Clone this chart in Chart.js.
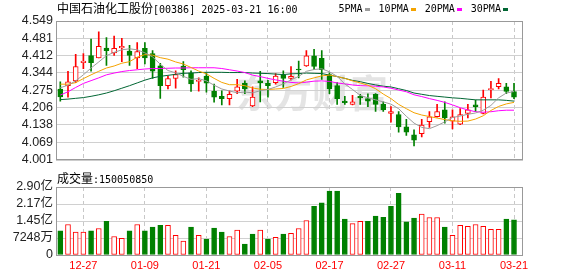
<!DOCTYPE html>
<html>
<head>
<meta charset="utf-8">
<script src="https://cdn.jsdelivr.net/npm/chart.js@4.4.1/dist/chart.umd.min.js"></script>
<style>
  body { margin: 0; background: #fff; }
  #wrap { position: relative; width: 578px; height: 276px; overflow: hidden; }
  canvas { position: absolute; left: 0; }
  .txt { position: absolute; white-space: nowrap; line-height: 12px; color: #000; }
  .cjk { font-family: "Noto Sans CJK SC", sans-serif; font-size: 12px; }
  .mono { font-family: "DejaVu Sans Mono", monospace; font-size: 10px; }
  #legend { position: absolute; left: 338.5px; top: 3px; display: flex; align-items: center; line-height: 12px; }
  #legend .item { display: flex; align-items: center; margin-right: 8.5px; }
  #legend .mark { width: 5px; height: 3px; margin-left: 2.5px; }
</style>
</head>
<body>
<div id="wrap">
  <canvas id="klineChart" width="578" height="170" style="top:0"></canvas>
  <canvas id="volumeChart" width="578" height="106" style="top:170px"></canvas>
  <div class="txt" style="left:57px;top:2px"><span class="cjk">中国石油化工股份</span><span class="mono">[00386] 2025-03-21 16:00</span></div>
  <div id="legend"></div>
  <div class="txt" style="left:57px;top:172px"><span class="cjk">成交量</span><span class="mono" id="volText"></span></div>
</div>
<script>
// trading days shown
const dates = [
  '2024-12-20', '2024-12-23', '2024-12-24', '2024-12-27', '2024-12-30', '2024-12-31', '2025-01-02', '2025-01-03', '2025-01-06', '2025-01-07',
  '2025-01-08', '2025-01-09', '2025-01-10', '2025-01-13', '2025-01-14', '2025-01-15', '2025-01-16', '2025-01-17', '2025-01-20', '2025-01-21',
  '2025-01-22', '2025-01-23', '2025-01-24', '2025-01-27', '2025-01-28', '2025-02-03', '2025-02-04', '2025-02-05', '2025-02-06', '2025-02-07',
  '2025-02-10', '2025-02-11', '2025-02-12', '2025-02-13', '2025-02-14', '2025-02-17', '2025-02-18', '2025-02-19', '2025-02-20', '2025-02-21',
  '2025-02-24', '2025-02-25', '2025-02-26', '2025-02-27', '2025-02-28', '2025-03-03', '2025-03-04', '2025-03-05', '2025-03-06', '2025-03-07',
  '2025-03-10', '2025-03-11', '2025-03-12', '2025-03-13', '2025-03-14', '2025-03-17', '2025-03-18', '2025-03-19', '2025-03-20', '2025-03-21'
];

const open = [
  4.280, 4.293, 4.312, 4.384, 4.412, 4.403, 4.442, 4.423, 4.442, 4.430,
  4.403, 4.441, 4.420, 4.372, 4.293, 4.322, 4.371, 4.344, 4.310, 4.331,
  4.271, 4.251, 4.242, 4.271, 4.303, 4.213, 4.312, 4.302, 4.305, 4.335,
  4.322, 4.359, 4.371, 4.411, 4.401, 4.337, 4.293, 4.232, 4.219, 4.251,
  4.242, 4.259, 4.219, 4.183, 4.179, 4.130, 4.099, 4.103, 4.151, 4.170,
  4.198, 4.153, 4.141, 4.183, 4.217, 4.183, 4.277, 4.289, 4.289, 4.270
];
const high = [
  4.308, 4.350, 4.417, 4.420, 4.477, 4.506, 4.483, 4.489, 4.480, 4.453,
  4.464, 4.464, 4.432, 4.382, 4.331, 4.352, 4.388, 4.352, 4.324, 4.344,
  4.299, 4.273, 4.273, 4.318, 4.312, 4.289, 4.350, 4.314, 4.341, 4.352,
  4.369, 4.390, 4.432, 4.437, 4.432, 4.344, 4.305, 4.251, 4.255, 4.259,
  4.261, 4.262, 4.229, 4.210, 4.191, 4.160, 4.118, 4.160, 4.191, 4.219,
  4.229, 4.198, 4.202, 4.219, 4.236, 4.276, 4.310, 4.321, 4.302, 4.302
];
const low = [
  4.232, 4.248, 4.305, 4.360, 4.350, 4.403, 4.373, 4.413, 4.388, 4.373,
  4.360, 4.379, 4.322, 4.243, 4.280, 4.283, 4.327, 4.270, 4.271, 4.267,
  4.228, 4.217, 4.217, 4.261, 4.261, 4.210, 4.229, 4.248, 4.299, 4.286,
  4.315, 4.324, 4.369, 4.356, 4.318, 4.261, 4.219, 4.219, 4.217, 4.219,
  4.210, 4.191, 4.191, 4.149, 4.109, 4.096, 4.055, 4.090, 4.128, 4.168,
  4.145, 4.122, 4.139, 4.166, 4.191, 4.181, 4.245, 4.280, 4.261, 4.242
];
const close = [
  4.249, 4.308, 4.369, 4.390, 4.384, 4.449, 4.432, 4.441, 4.449, 4.413,
  4.428, 4.403, 4.350, 4.293, 4.321, 4.337, 4.356, 4.300, 4.313, 4.303,
  4.248, 4.242, 4.259, 4.289, 4.280, 4.248, 4.305, 4.293, 4.331, 4.322,
  4.330, 4.355, 4.411, 4.369, 4.356, 4.280, 4.242, 4.226, 4.229, 4.245,
  4.232, 4.219, 4.198, 4.191, 4.130, 4.109, 4.077, 4.137, 4.170, 4.191,
  4.166, 4.170, 4.179, 4.198, 4.210, 4.248, 4.282, 4.302, 4.270, 4.248
];

const ma5 = [
  4.285, 4.295, 4.312, 4.336, 4.363, 4.387, 4.412, 4.425, 4.435, 4.439,
  4.435, 4.423, 4.407, 4.378, 4.353, 4.344, 4.330, 4.318, 4.321, 4.312,
  4.295, 4.280, 4.272, 4.265, 4.268, 4.265, 4.273, 4.278, 4.288, 4.300,
  4.316, 4.330, 4.350, 4.357, 4.360, 4.348, 4.330, 4.300, 4.278, 4.255,
  4.245, 4.237, 4.229, 4.220, 4.202, 4.172, 4.145, 4.128, 4.123, 4.135,
  4.150, 4.167, 4.173, 4.180, 4.185, 4.196, 4.215, 4.245, 4.264, 4.270
];
const ma10 = [
  4.299, 4.299, 4.305, 4.321, 4.336, 4.350, 4.363, 4.371, 4.382, 4.388,
  4.406, 4.416, 4.414, 4.404, 4.398, 4.387, 4.379, 4.365, 4.351, 4.340,
  4.322, 4.306, 4.297, 4.297, 4.293, 4.284, 4.279, 4.278, 4.280, 4.282,
  4.290, 4.301, 4.316, 4.324, 4.332, 4.335, 4.329, 4.322, 4.312, 4.304,
  4.295, 4.281, 4.260, 4.242, 4.219, 4.202, 4.186, 4.177, 4.171, 4.165,
  4.159, 4.154, 4.152, 4.153, 4.161, 4.174, 4.195, 4.211, 4.221, 4.227
];
const ma20 = [
  4.256, 4.269, 4.286, 4.302, 4.313, 4.324, 4.336, 4.343, 4.349, 4.353,
  4.356, 4.359, 4.361, 4.361, 4.362, 4.363, 4.363, 4.364, 4.364, 4.364,
  4.364, 4.361, 4.356, 4.351, 4.345, 4.335, 4.329, 4.322, 4.316, 4.311,
  4.306, 4.304, 4.307, 4.311, 4.312, 4.310, 4.304, 4.300, 4.296, 4.293,
  4.292, 4.291, 4.288, 4.283, 4.276, 4.269, 4.257, 4.250, 4.242, 4.235,
  4.227, 4.217, 4.206, 4.197, 4.190, 4.188, 4.190, 4.194, 4.196, 4.196
];
const ma30 = [
  4.238, 4.240, 4.243, 4.246, 4.251, 4.257, 4.264, 4.273, 4.283, 4.293,
  4.304, 4.315, 4.324, 4.330, 4.334, 4.338, 4.342, 4.343, 4.345, 4.346,
  4.346, 4.346, 4.345, 4.345, 4.345, 4.343, 4.342, 4.341, 4.339, 4.337,
  4.340, 4.341, 4.343, 4.342, 4.341, 4.335, 4.329, 4.322, 4.314, 4.309,
  4.302, 4.296, 4.291, 4.288, 4.281, 4.274, 4.264, 4.259, 4.254, 4.251,
  4.248, 4.245, 4.243, 4.240, 4.237, 4.237, 4.237, 4.237, 4.235, 4.232
];

const volume = [
  103000000, 130000000, 98000000, 98000000, 103000000, 113000000, 144000000, 79000000, 71000000, 103000000,
  130000000, 103000000, 119000000, 127000000, 126000000, 84000000, 59000000, 119000000, 84000000, 68000000,
  115000000, 98000000, 79000000, 106000000, 47000000, 89000000, 106000000, 68000000, 75000000, 89000000,
  92000000, 113000000, 147000000, 208000000, 222000000, 272000000, 272000000, 153000000, 134000000, 144000000,
  144000000, 166000000, 161000000, 208000000, 263000000, 141000000, 157000000, 174000000, 160000000, 160000000,
  119000000, 84000000, 126000000, 122000000, 130000000, 122000000, 109000000, 109000000, 153000000, 150050850
];

const priceTicks = [4.001, 4.069, 4.138, 4.206, 4.275, 4.344, 4.412, 4.481, 4.549];
const volumeTicks = [0, 72480000, 144960000, 217440000, 289920000];
const volumeTickLabels = ['0', '7248万', '1.45亿', '2.17亿', '2.90亿'];
const dateTicks = ['12-27', '01-09', '01-21', '02-05', '02-17', '02-27', '03-11', '03-21'];

const RED = '#ff0000';
const GREEN = '#008000';
const AXIS_FONT = '"Liberation Sans", "Noto Sans CJK SC", sans-serif';

const maSeries = [
  { name: '5PMA', data: ma5, color: '#9c9c9c' },
  { name: '10PMA', data: ma10, color: '#f4a300' },
  { name: '20PMA', data: ma20, color: '#ff00ff' },
  { name: '30PMA', data: ma30, color: '#006633' }
];

const tickIndex = dateTicks.map(d => dates.findIndex(x => x.endsWith(d)));
const candleUp = i => close[i] >= open[i];
const volumeUp = i => (i === 0 ? close[0] >= open[0] : close[i] >= close[i - 1]);

// legend + volume text
const legend = document.getElementById('legend');
maSeries.forEach(s => {
  const item = document.createElement('div');
  item.className = 'item';
  item.innerHTML = `<span class="mono">${s.name}</span><span class="mark" style="background:${s.color}"></span>`;
  legend.appendChild(item);
});
document.getElementById('volText').textContent = ':' + volume[volume.length - 1];

const framePlugin = {
  id: 'frame',
  afterDatasetsDraw(chart) {
    const { ctx, chartArea: a } = chart;
    ctx.save();
    ctx.strokeStyle = '#999';
    ctx.lineWidth = 1;
    ctx.strokeRect(a.left + 0.5, a.top + 0.5, a.right - a.left, a.bottom - a.top);
    ctx.restore();
  }
};

const watermarkPlugin = {
  id: 'watermark',
  beforeDraw(chart) {
    const { ctx } = chart;
    ctx.save();
    ctx.fillStyle = '#e4e4e4';
    ctx.font = 'bold 38px "Noto Sans CJK SC"';
    ctx.textAlign = 'center';
    ctx.textBaseline = 'middle';
    ctx.fillText('东方财富', 312, 93);
    ctx.restore();
  }
};

const xScale = (showLabels) => ({
  type: 'linear',
  offset: false,
  min: -0.56,
  max: dates.length + 0.04,
  afterBuildTicks: s => { s.ticks = tickIndex.map(v => ({ value: v })); },
  afterFit: s => { s.height = showLabels ? 21 : 0; },
  ticks: {
    display: showLabels,
    autoSkip: false,
    maxRotation: 0,
    padding: 4,
    color: RED,
    font: { family: AXIS_FONT, size: 11 },
    callback: v => (dates[v] || '').slice(5)
  },
  grid: { color: '#c8c8c8', drawTicks: false, offset: false },
  border: { color: '#999', dash: [4, 3] }
});

new Chart(document.getElementById('klineChart'), {
  type: 'bar',
  data: {
    datasets: [
      ...maSeries.map(s => ({
        type: 'line',
        data: s.data.map((v, i) => ({ x: i, y: v })),
        borderColor: s.color,
        borderWidth: 1,
        pointRadius: 0,
        tension: 0,
        order: 0
      })),
      {
        data: open.map((o, i) => ({ x: i, y: [o, close[i]] })),
        barThickness: 5,
        minBarLength: 1,
        grouped: false,
        borderSkipped: false,
        borderWidth: 1,
        backgroundColor: c => (candleUp(c.dataIndex) ? '#fff' : GREEN),
        borderColor: c => (candleUp(c.dataIndex) ? RED : GREEN),
        order: 1
      },
      {
        data: low.map((l, i) => ({ x: i, y: [l, high[i]] })),
        barThickness: 1,
        grouped: false,
        borderWidth: 0,
        backgroundColor: c => (candleUp(c.dataIndex) ? RED : GREEN),
        order: 2
      }
    ]
  },
  options: {
    responsive: false,
    animation: false,
    layout: { padding: { top: 21, right: 56, bottom: 5, left: 0 } },
    plugins: { legend: { display: false }, tooltip: { enabled: false } },
    scales: {
      x: xScale(false),
      y: {
        min: priceTicks[0],
        max: priceTicks[priceTicks.length - 1],
        afterBuildTicks: s => { s.ticks = priceTicks.map(v => ({ value: v })); },
        afterFit: s => { s.width = 56; },
        ticks: {
          autoSkip: false,
          padding: 3,
          color: '#222',
          font: { family: AXIS_FONT, size: 12.5 },
          callback: v => v.toFixed(3)
        },
        grid: { color: '#d0d0d0', drawTicks: false },
        border: { color: '#999' }
      }
    }
  },
  plugins: [watermarkPlugin, framePlugin]
});

new Chart(document.getElementById('volumeChart'), {
  type: 'bar',
  data: {
    datasets: [{
      data: volume.map((v, i) => ({ x: i, y: v })),
      barThickness: 5,
      borderSkipped: false,
      borderWidth: 1,
      backgroundColor: c => (volumeUp(c.dataIndex) ? '#fff' : GREEN),
      borderColor: c => (volumeUp(c.dataIndex) ? RED : GREEN)
    }]
  },
  options: {
    responsive: false,
    animation: false,
    layout: { padding: { top: 17, right: 56, bottom: 0, left: 0 } },
    plugins: { legend: { display: false }, tooltip: { enabled: false } },
    scales: {
      x: xScale(true),
      y: {
        min: 0,
        max: volumeTicks[volumeTicks.length - 1],
        afterBuildTicks: s => { s.ticks = volumeTicks.map(v => ({ value: v })); },
        afterFit: s => { s.width = 56; },
        ticks: {
          autoSkip: false,
          padding: 3,
          color: '#222',
          font: { family: AXIS_FONT, size: 12.5 },
          callback: (v, idx) => volumeTickLabels[idx]
        },
        grid: { color: '#d0d0d0', drawTicks: false },
        border: { color: '#999' }
      }
    }
  },
  plugins: [framePlugin]
});
</script>
</body>
</html>
